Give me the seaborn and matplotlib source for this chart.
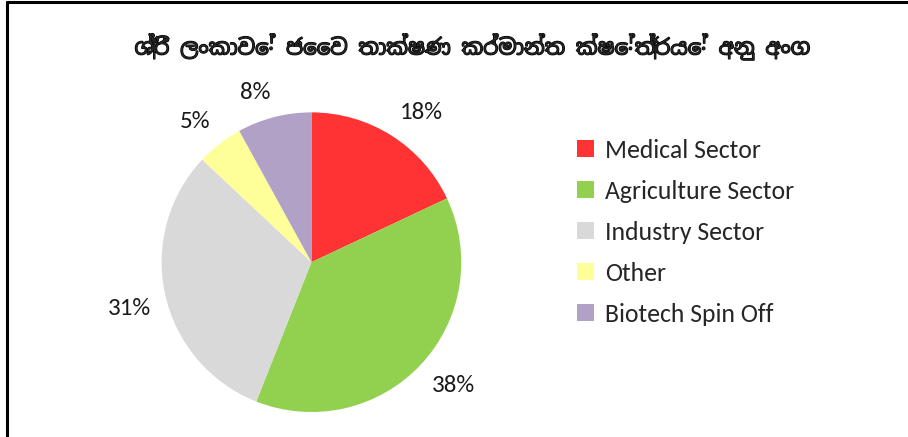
import matplotlib
matplotlib.use("Agg")
import matplotlib.pyplot as plt
import matplotlib.patheffects as pe
from matplotlib.lines import Line2D
import numpy as np
import seaborn as sns

sns.set_theme(style="white")
plt.rcParams["font.family"] = ["Carlito", "Lato", "DejaVu Sans"]

title = "ශ්‍රී ලංකාවේ ජෛව තාක්ෂණ කර්මාන්ත ක්ෂේත්‍රයේ අනු අංග"
sectors = ["Medical Sector", "Agriculture Sector", "Industry Sector", "Other", "Biotech Spin Off"]
shares = [18, 38, 31, 5, 8]
colors = ["#ff3333", "#92d050", "#d9d9d9", "#ffff99", "#b2a1c7"]

fig = plt.figure(figsize=(9.08, 4.37), dpi=100)
ax = fig.add_axes([0.178, 0.057, 0.330, 0.686])

wedges, texts, autotexts = ax.pie(
    shares,
    colors=colors,
    startangle=90,
    counterclock=False,
    autopct="%1.0f%%",
    pctdistance=1.1,
    wedgeprops={"linewidth": 0},
    textprops={"fontsize": 18, "color": "#1a1a1a"},
)
# outside-end labels: anchor the near corner of each label to the ring
for w, t in zip(wedges, autotexts):
    ang = np.deg2rad((w.theta1 + w.theta2) / 2)
    t.set_ha("left" if np.cos(ang) > 0 else "right")
    t.set_va("bottom" if np.sin(ang) > 0 else "top")

ax.set_xlim(-1, 1)
ax.set_ylim(-1, 1)
ax.set_aspect("equal")

fig.text(0.52, 0.893, title, ha="center", va="center", fontsize=15.5,
         family=["Noto Sans Sinhala", "DejaVu Sans"],
         path_effects=[pe.withStroke(linewidth=0.9, foreground="black")])

fig.legend(wedges, sectors, loc="upper left", bbox_to_anchor=(0.61, 0.735),
           frameon=False, fontsize=18.5, handlelength=0.65, handleheight=0.65,
           handletextpad=0.45, labelspacing=0.7)

# chart border (top and left edge visible)
fig.add_artist(Line2D([0.008, 1.0], [0.995, 0.995], color="black", lw=2.2,
                      transform=fig.transFigure))
fig.add_artist(Line2D([0.008, 0.008], [0.0, 0.995], color="black", lw=2.2,
                      transform=fig.transFigure))

fig.savefig("out.png", dpi=100)
